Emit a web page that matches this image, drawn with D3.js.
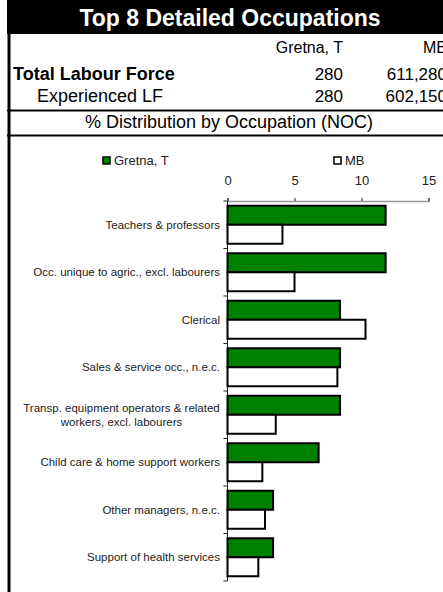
<!DOCTYPE html>
<html>
<head>
<meta charset="utf-8">
<script src="https://cdn.jsdelivr.net/npm/d3@7"></script>
<style>
body{margin:0;background:#fff}
svg{display:block;font-family:"Liberation Sans",Arial,sans-serif}
</style>
</head>
<body>
<svg width="443" height="592"></svg>
<script>
// data
const categories=["Teachers & professors","Occ. unique to agric., excl. labourers","Clerical","Sales & service occ., n.e.c.","Transp. equipment operators & related|workers, excl. labourers","Child care & home support workers","Other managers, n.e.c.","Support of health services"]
const gretna=[11.8,11.8,8.4,8.4,8.4,6.8,3.4,3.4]
const mb=[4.1,5.0,10.3,8.2,3.6,2.6,2.8,2.3]
const seriesNames=["Gretna, T","MB"]
const seriesColors=["#008000","#ffffff"]
const xTicks=[0,5,10,15]
const tableRows=[["Total Labour Force","280","611,280"],["Experienced LF","280","602,150"]]

const svg=d3.select("svg")

// header block
svg.append("rect").attr("x",7).attr("y",0).attr("width",436).attr("height",34).attr("fill","#000")
svg.append("text").attr("x",230).attr("y",26).attr("text-anchor","middle").attr("fill","#fff")
.attr("font-size",23).attr("font-weight","bold").text("Top 8 Detailed Occupations")
svg.append("rect").attr("x",7.5).attr("y",33).attr("width",3).attr("height",559).attr("fill","#000")

const col1=343,col2=447
svg.append("text").attr("x",col1).attr("y",53).attr("text-anchor","end").attr("font-size",16).text(seriesNames[0])
svg.append("text").attr("x",col2).attr("y",53).attr("text-anchor","end").attr("font-size",16).text(seriesNames[1])
tableRows.forEach((r,i)=>{
const y=i==0?80:102
svg.append("text").attr("x",i==0?13:37).attr("y",y).attr("font-size",18).attr("font-weight",i==0?"bold":"normal").text(r[0])
svg.append("text").attr("x",col1).attr("y",y).attr("text-anchor","end").attr("font-size",17).text(r[1])
svg.append("text").attr("x",col2).attr("y",y).attr("text-anchor","end").attr("font-size",17).text(r[2])
})
svg.append("rect").attr("x",7).attr("y",109.5).attr("width",436).attr("height",2).attr("fill","#000")
svg.append("text").attr("x",229).attr("y",128).attr("text-anchor","middle").attr("font-size",18).text("% Distribution by Occupation (NOC)")
svg.append("rect").attr("x",7).attr("y",134.5).attr("width",436).attr("height",2).attr("fill","#000")

// chart
const x=d3.scaleLinear().domain([0,15]).range([227.5,428.5])
const y=d3.scaleBand().domain(categories).range([201,581]).paddingInner(0.2).paddingOuter(0.1)
const y0=d3.scaleBand().domain(categories).range([201,581])
const sub=d3.scaleBand().domain([0,1]).range([0,y.bandwidth()])

// legend
const legX=[103,334]
seriesNames.forEach((n,i)=>{
svg.append("rect").attr("x",legX[i]).attr("y",157).attr("width",7).attr("height",7).attr("fill",seriesColors[i]).attr("stroke","#000").attr("stroke-width",1.5)
svg.append("text").attr("x",legX[i]+11).attr("y",165).attr("font-size",13).attr("fill","#222").text(n)
})

// top axis
const xa=svg.append("g").attr("transform","translate(0,201)")
.call(d3.axisTop(x).tickValues(xTicks).tickSize(3).tickPadding(13))
xa.select(".domain").attr("stroke","#999").attr("stroke-width",1.5)
xa.selectAll(".tick line").attr("stroke","#222")
xa.selectAll(".tick text").attr("font-size",13).attr("fill","#222").attr("font-family","Liberation Sans,Arial,sans-serif")

// left category axis with ticks between categories
const ya=svg.append("g").attr("transform","translate(227.5,0)")
ya.append("line").attr("y1",201).attr("y2",581).attr("stroke","#222").attr("stroke-width",1)
ya.selectAll("line.t").data(d3.range(categories.length+1)).join("line").attr("class","t")
.attr("x1",-4).attr("x2",0).attr("y1",i=>201+i*y0.bandwidth()).attr("y2",i=>201+i*y0.bandwidth()).attr("stroke","#222")

// bars
const series=[gretna,mb]
series.forEach((vals,s)=>{
svg.append("g").selectAll("rect").data(categories).join("rect")
.attr("x",x(0)).attr("y",(c)=>y(c)+sub(s)).attr("height",sub.bandwidth())
.attr("width",(c,i)=>x(vals[i])-x(0))
.attr("fill",seriesColors[s]).attr("stroke","#000").attr("stroke-width",2)
})

// category labels
categories.forEach(c=>{
const lines=c.split("|")
const cy=y0(c)+y0.bandwidth()/2
const t=svg.append("text").attr("font-size",11.5).attr("fill","#222")
.attr("text-anchor",lines.length>1?"middle":"end")
lines.forEach((l,k)=>{
t.append("tspan").attr("x",lines.length>1?121.5:220).attr("y",cy+4+(k-(lines.length-1)/2)*14.5).text(l)
})
})
</script>
</body>
</html>
